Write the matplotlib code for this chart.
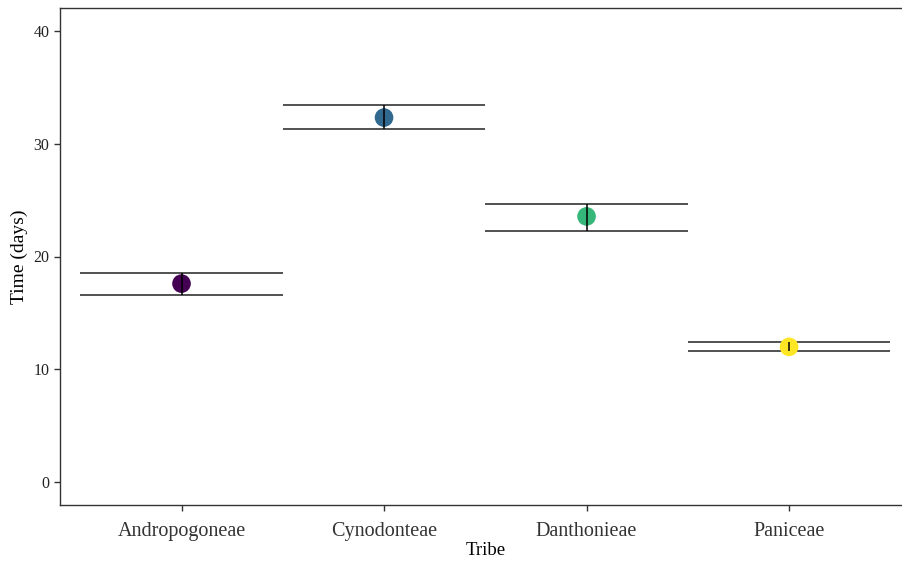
import matplotlib
matplotlib.use("Agg")
import matplotlib.pyplot as plt

tribes = ["Andropogoneae", "Cynodonteae", "Danthonieae", "Paniceae"]
mean_days = [17.6, 32.3, 23.55, 12.0]
upper = [18.5, 33.4, 24.65, 12.45]
lower = [16.6, 31.25, 22.3, 11.65]
colors = ["#440154", "#31688E", "#35B779", "#FDE725"]
yticks = [0, 10, 20, 30, 40]

plt.rcParams['font.family'] = ['Liberation Serif', 'DejaVu Serif']

W, H = 902, 561
fig = plt.figure(figsize=(W/100, H/100), dpi=100)
left, right, top, bottom = 60, 910.6, 8, 505
ax = fig.add_axes([left/W, 1-bottom/H, (right-left)/W, (bottom-top)/H])

x = list(range(1, len(tribes)+1))
for i, xi in enumerate(x):
    ax.hlines([upper[i], lower[i]], xi-0.5, xi+0.5, color="#222222", lw=1.1, zorder=2)
    ax.scatter([xi], [mean_days[i]], s=180, color=colors[i], zorder=3, edgecolors='none')
    ax.vlines(xi, lower[i], upper[i], color="black", lw=1.1, zorder=4)

ax.set_xlim(0.4, 4.6)
ax.set_ylim(-2, 42)
ax.set_xticks(x)
ax.set_xticklabels(tribes, fontsize=14.5, color="#333333")
ax.set_yticks(yticks)
ax.set_yticklabels([str(v) for v in yticks], fontsize=11.5, color="#222222")
ax.set_xlabel("Tribe", fontsize=13.5, labelpad=1)
ax.set_ylabel("Time (days)", fontsize=14, labelpad=4)
for s in ax.spines.values():
    s.set_color("#333333")
    s.set_linewidth(1.0)
ax.spines['right'].set_visible(False)
ax.tick_params(axis='both', length=4, color="#333333", width=1)
ax.tick_params(axis='x', pad=8)
fig.savefig("out.png", dpi=100, facecolor="white")
